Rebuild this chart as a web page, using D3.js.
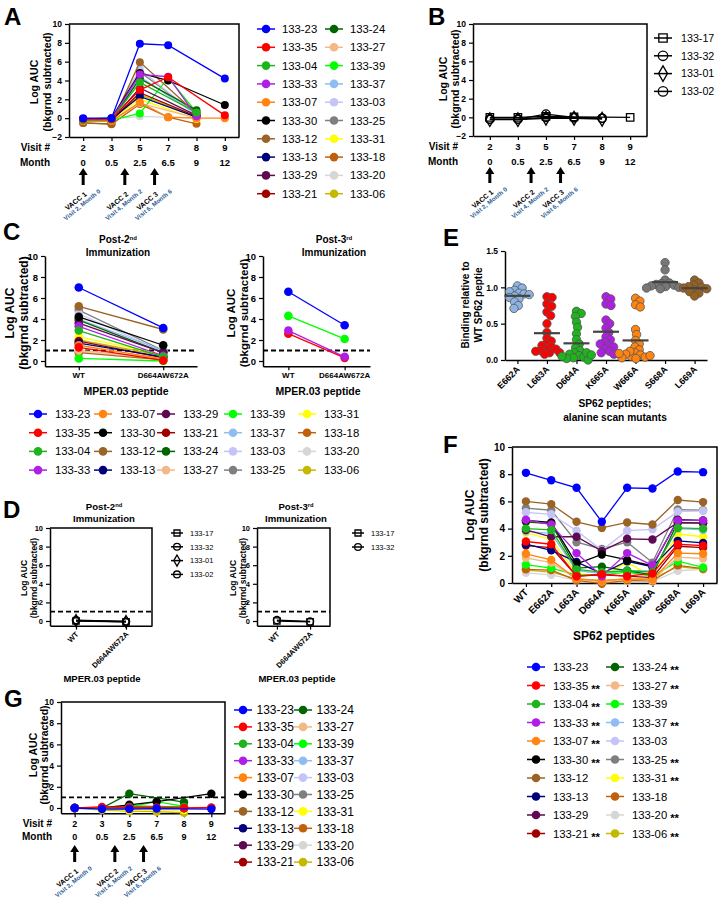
<!DOCTYPE html>
<html>
<head>
<meta charset="utf-8">
<script src="https://cdn.jsdelivr.net/npm/d3@7"></script>
<style>
  body { margin: 0; background: #fff; }
  text { font-family: Arial, "Liberation Sans", sans-serif; }
</style>
</head>
<body>
<svg id="fig" width="723" height="900"></svg>
<script>
// ---- data ----
const subjects = ["133-23","133-35","133-04","133-33","133-07","133-30","133-12","133-13","133-29","133-21",
                  "133-24","133-27","133-39","133-37","133-03","133-25","133-31","133-18","133-20","133-06"];
const subjectColors = ["#0000ff","#ff0000","#1db41d","#b01ee6","#ff8410","#000000","#9a6426","#00007f","#5e0a52","#a00000",
                       "#006400","#f2b886","#00ff00","#8fbdf2","#c4c4f6","#7f7f7f","#ffff00","#c0600c","#d6d6d6","#c4b800"];
const visits = ["2","3","5","7","8","9"];
const months = ["0","0.5","2.5","6.5","9","12"];
const vaccLabels = ["VACC 1","VACC 2","VACC 3"];
const vaccNotes = ["Visit 2, Month 0","Visit 4, Month 2","Visit 6, Month 6"];

// A: Log AUC per visit (null = not measured)
const aucA = [
  [0.0, 0.0, 7.9, 7.75, null, 4.2],
  [-0.1, -0.1, 3.0, 4.35, null, 0.3],
  [-0.2, -0.15, 3.8, null, 0.6, null],
  [-0.15, -0.1, 4.65, 4.4, 0.2, null],
  [-0.3, -0.3, 1.7, 0.1, 0.0, 0.0],
  [-0.1, 0.0, 4.8, 4.0, null, 1.4],
  [-0.5, -0.6, 5.95, null, 0.5, null],
  [-0.1, -0.1, 2.3, null, 0.1, null],
  [-0.2, -0.2, 3.2, null, 0.3, null],
  [-0.25, -0.25, 2.7, null, 0.2, null],
  [-0.2, -0.2, 4.2, null, 0.85, null],
  [-0.35, -0.35, 1.6, null, 0.0, null],
  [-0.2, -0.2, 0.5, 4.3, 0.6, null],
  [-0.1, -0.1, 4.4, null, 0.4, null],
  [-0.1, -0.1, 5.2, null, 0.3, null],
  [-0.2, -0.2, 4.9, null, 0.5, null],
  [-0.2, -0.2, 2.0, null, -0.1, null],
  [-0.5, -0.65, 1.5, 0.1, -0.6, null],
  [-0.1, -0.1, 0.2, null, 0.0, null],
  [-0.2, -0.2, 2.5, null, 0.1, null]
];

// B: placebo subjects
const negSubjects = ["133-17","133-32","133-01","133-02"];
const negSymbols = ["square","circle","diamond","circle"];
const aucB = [
  [0.0, 0.0, 0.1, 0.05, null, 0.0],
  [-0.2, -0.2, 0.35, 0.0, -0.1, null],
  [-0.25, -0.25, -0.1, -0.1, -0.2, null],
  [-0.2, -0.2, 0.0, -0.05, -0.1, null]
];

// C: MPER.03 WT vs D664AW672A
const mperPeptides = ["WT","D664AW672A"];
const mperPost2 = [
  [7.0, 3.15], [1.3, 0.05], [2.9, 0.4], [3.3, 0.5], [1.5, 0.2], [4.2, 1.5], [5.2, 3.0], [1.7, 0.4], [3.6, 0.8], [1.9, 0.3],
  [3.9, 0.8], [1.0, 0.3], [0.25, 0.0], [4.0, 1.0], [4.5, 0.9], [4.85, 1.0], [2.3, 0.6], [0.8, 0.1], [0.9, 0.2], [2.0, 0.5]
];
const post3Subjects = ["133-23","133-39","133-33","133-35"];
const mperPost3 = [[6.6, 3.4], [4.3, 2.1], [2.9, 0.4], [2.6, 0.3]];

// D: placebo, MPER.03
const mperNegPost2 = [[0.0, -0.1], [0.1, -0.05], [0.05, -0.05], [0.05, -0.1]];
const post3NegSubjects = ["133-17","133-32"];
const mperNegPost3 = [[0.0, -0.1], [0.1, -0.05]];

// E: binding relative to WT SP62
const alaMutants = ["E662A","L663A","D664A","K665A","W666A","S668A","L669A"];
const mutantColors = ["#8db4e2","#ff0000","#1db41d","#b01ee6","#ff8410","#777777","#98601e"];
const bindingTicks = [0, 0.5, 1, 1.5];
const relBinding = [
  [1.02, 0.99, 0.96, 0.94, 0.92, 0.91, 0.90, 0.88, 0.86, 0.84, 0.80, 0.75, 0.71],
  [0.87, 0.86, 0.77, 0.74, 0.66, 0.61, 0.50, 0.38, 0.30, 0.26, 0.22, 0.20, 0.18, 0.15, 0.13, 0.10, 0.15, 0.12, 0.10, 0.08],
  [0.67, 0.64, 0.60, 0.52, 0.45, 0.36, 0.28, 0.22, 0.17, 0.13, 0.10, 0.08, 0.06, 0.04, 0.03, 0.02, 0.0, 0.05, 0.10, 0.07],
  [0.87, 0.84, 0.77, 0.75, 0.55, 0.50, 0.44, 0.38, 0.32, 0.28, 0.25, 0.22, 0.20, 0.18, 0.15, 0.12, 0.10, 0.08],
  [0.85, 0.81, 0.76, 0.73, 0.42, 0.35, 0.27, 0.22, 0.18, 0.14, 0.10, 0.07, 0.05, 0.02, 0.12, 0.08, 0.04, 0.06, 0.03, 0.09],
  [1.34, 1.24, 1.10, 1.06, 1.05, 1.04, 1.03, 1.02, 1.01, 1.00, 0.99, 0.98],
  [1.10, 1.06, 1.03, 1.01, 1.00, 0.99, 0.98, 0.96, 0.94, 0.92, 0.88]
];

// F: SP62 alanine scan
const sp62Peptides = ["WT","E662A","L663A","D664A","K665A","W666A","S668A","L669A"];
const aucF = [
  [8.1, 7.55, 7.0, 4.5, 7.0, 6.95, 8.2, 8.15],
  [3.05, 2.85, 0.5, 0.65, 0.5, 0.7, 2.85, 2.75],
  [4.0, 3.9, 1.0, 0.8, 0.9, 0.8, 4.05, 4.0],
  [4.65, 4.3, 2.2, 0.5, 2.2, 1.3, 4.6, 4.6],
  [2.15, 1.7, 0.3, 0.15, 0.3, 0.25, 2.2, 2.15],
  [4.6, 4.45, 1.4, 2.1, 1.7, 1.25, 4.65, 4.6],
  [6.0, 5.8, 4.5, 4.05, 4.45, 4.3, 6.1, 5.95],
  [2.85, 2.4, 1.55, 0.7, 1.6, 1.2, 3.1, 2.95],
  [3.9, 3.4, 3.4, 2.35, 3.25, 3.2, 4.45, 4.4],
  [2.75, 2.6, 0.5, 0.6, 0.5, 0.4, 2.7, 2.6],
  [4.5, 4.35, 1.1, 1.2, 0.9, 0.6, 4.45, 4.4],
  [1.85, 1.5, 0.3, 0.1, 0.3, 0.2, 1.9, 1.8],
  [1.35, 1.1, 0.6, 0.6, 0.8, 0.5, 1.6, 1.15],
  [3.8, 3.65, 0.9, 0.7, 0.9, 0.9, 4.0, 3.9],
  [5.2, 5.05, 3.85, 2.4, 3.85, 3.95, 5.25, 5.3],
  [5.5, 5.35, 3.0, 2.5, 3.0, 1.5, 5.4, 5.35],
  [3.7, 3.2, 0.7, 0.5, 1.5, 0.5, 3.6, 3.4],
  [1.0, 0.95, 0.2, -0.05, 0.2, 0.15, 1.3, 1.05],
  [0.75, 0.6, 0.2, 0.1, 0.15, 0.1, 0.9, 1.0],
  [0.95, 0.8, 0.3, 0.2, 0.3, 0.3, 1.2, 1.0]
];
const sigStars = ["","**","**","**","**","**","","","","**","**","**","","**","","**","**","","**","**"];

// G: MPER.03 over visits
const aucG = [
  [0.0, -0.1, -0.1, -0.05, null, -0.1],
  [0.0, 0.1, 0.05, 0.05, 0.0, 0.05],
  [0.0, 0.0, 0.1, null, 0.1, null],
  [0.0, 0.0, 0.0, null, 0.0, null],
  [0.0, 0.0, 0.0, null, 0.0, 0.0],
  [0.0, 0.0, 0.3, 0.6, null, 1.35],
  [0.0, 0.0, 0.1, null, 0.0, null],
  [0.0, 0.0, 0.0, null, 0.0, null],
  [0.0, 0.0, 0.05, null, 0.0, null],
  [0.0, 0.05, 0.05, null, 0.0, null],
  [0.0, 0.0, 1.35, null, 0.55, null],
  [0.0, 0.0, 0.0, null, 0.0, null],
  [0.0, 0.0, 0.1, 0.6, 0.15, null],
  [0.0, 0.0, 0.0, null, 0.0, null],
  [0.0, 0.0, 0.0, null, 0.0, null],
  [0.0, 0.0, 0.2, null, 0.1, null],
  [0.0, -0.1, -0.2, null, -0.2, null],
  [0.0, 0.0, 0.0, null, 0.0, null],
  [0.0, 0.0, 0.0, null, 0.0, null],
  [0.0, -0.2, -0.3, -0.35, -0.45, null]
];

// ---- helpers ----
const svg = d3.select("#fig");
const symbolTypes = { square: d3.symbolSquare, circle: d3.symbolCircle, diamond: d3.symbolDiamond };
const vaccIdx = [0, 1.47, 2.52];

function styleAxis(sel, fs) {
  sel.select(".domain").attr("stroke-width", 1.5);
  sel.selectAll(".tick line").attr("stroke-width", 1.2);
  sel.selectAll("text").attr("font-weight", "bold").attr("font-size", fs).attr("fill", "#000")
    .attr("font-family", "Arial, 'Liberation Sans', sans-serif");
}

function panel(o) {
  const g = svg.append("g");
  const x = d3.scalePoint().domain(o.cats).range([o.x0, o.x1]).padding(o.pad);
  const y = d3.scaleLinear().domain(o.dom).range([o.yb, o.yt]);
  g.append("g").attr("transform", `translate(${o.x0},0)`)
    .call(d3.axisLeft(y).tickValues(o.ticks).tickFormat(o.fmt || d3.format("d")).tickSize(4).tickSizeOuter(0))
    .call(styleAxis, o.fs);
  g.append("g").attr("transform", `translate(0,${o.yb})`)
    .call(d3.axisBottom(x).tickSize(4).tickSizeOuter(0).tickFormat(""))
    .call(styleAxis, o.fs);
  if (o.frame) {
    g.append("path").attr("d", `M${o.x0},${o.yt}H${o.x1}V${o.yb}`)
      .attr("fill", "none").attr("stroke", "#000").attr("stroke-width", 1.5);
  }
  return { g, x, y, o };
}

function yLabel(lines, cxs, cy, fs) {
  lines.forEach((t, i) => {
    svg.append("text").attr("transform", `translate(${cxs[i] + fs * 0.36},${cy}) rotate(-90)`)
      .attr("text-anchor", "middle").attr("font-size", fs).attr("font-weight", "bold").text(t);
  });
}

function linePlot(p, cats, rows, colors, r, lw) {
  const line = d3.line().x(d => p.x(d[0])).y(d => p.y(d[1]));
  d3.range(rows.length).reverse().forEach(i => {
    const pts = rows[i].map((v, j) => [cats[j], v]).filter(d => d[1] != null);
    const s = p.g.append("g");
    s.append("path").attr("d", line(pts)).attr("fill", "none").attr("stroke", colors[i]).attr("stroke-width", lw);
    s.selectAll("circle").data(pts).join("circle")
      .attr("cx", d => p.x(d[0])).attr("cy", d => p.y(d[1])).attr("r", r).attr("fill", colors[i]);
  });
}

function symbolPlot(p, cats, rows, syms, size) {
  const line = d3.line().x(d => p.x(d[0])).y(d => p.y(d[1]));
  rows.forEach((row, i) => {
    const pts = row.map((v, j) => [cats[j], v]).filter(d => d[1] != null);
    const s = p.g.append("g");
    s.append("path").attr("d", line(pts)).attr("fill", "none").attr("stroke", "#000").attr("stroke-width", 1.3);
    s.selectAll("path.sym").data(pts).join("path").attr("class", "sym")
      .attr("transform", d => `translate(${p.x(d[0])},${p.y(d[1])})`)
      .attr("d", d3.symbol(symbolTypes[syms[i]], size)())
      .attr("fill", "none").attr("stroke", "#000").attr("stroke-width", 1.3);
  });
}

function dashed(p, v) {
  p.g.append("line").attr("x1", p.o.x0).attr("x2", p.o.x1).attr("y1", p.y(v)).attr("y2", p.y(v))
    .attr("stroke", "#000").attr("stroke-width", 1.8).attr("stroke-dasharray", "5,3");
}

function legend(o) {
  o.names.forEach((name, i) => {
    const cx = o.cols[Math.floor(i / o.rows)], cy = o.y0 + (i % o.rows) * o.dy;
    svg.append("line").attr("x1", cx - o.hl).attr("x2", cx + o.hl).attr("y1", cy).attr("y2", cy)
      .attr("stroke", o.colors ? o.colors[i] : "#000").attr("stroke-width", 1.5);
    if (o.syms) {
      svg.append("path").attr("transform", `translate(${cx},${cy})`)
        .attr("d", d3.symbol(symbolTypes[o.syms[i]], o.ss)())
        .attr("fill", "none").attr("stroke", "#000").attr("stroke-width", 1.3);
    } else {
      svg.append("circle").attr("cx", cx).attr("cy", cy).attr("r", o.r).attr("fill", o.colors[i]);
    }
    const t = svg.append("text").attr("x", cx + o.dx).attr("y", cy + o.fs * 0.36).attr("font-size", o.fs).text(name);
    if (o.stars && o.stars[i]) t.append("tspan").attr("dx", 3).attr("dy", 3).attr("font-weight", "bold").text(o.stars[i]);
  });
}

function visitRows(p, o) {
  const g = p.g;
  [["Visit #", visits, o.r1], ["Month", months, o.r2]].forEach(([lab, vals, yy]) => {
    g.append("text").attr("x", o.lx).attr("y", yy).attr("text-anchor", "end")
      .attr("font-size", o.lfs).attr("font-weight", "bold").text(lab);
    g.selectAll(null).data(vals).join("text")
      .attr("x", (d, i) => p.x(visits[i])).attr("y", yy).attr("text-anchor", "middle")
      .attr("font-size", o.fs).attr("font-weight", "bold").text(d => d);
  });
  const step = p.x.step();
  vaccIdx.forEach((k, i) => {
    const ax = p.x(visits[0]) + k * step;
    g.append("path")
      .attr("d", `M${ax},${o.at}L${ax - 4.5},${o.at + 7}H${ax - 1.5}V${o.ab}H${ax + 1.5}V${o.at + 7}H${ax + 4.5}Z`)
      .attr("fill", "#000");
    const lg = g.append("g").attr("transform", `translate(${ax + 4},${o.ab + 10}) rotate(-39)`);
    lg.append("text").attr("text-anchor", "end").attr("font-size", 7).attr("font-weight", "bold").text(vaccLabels[i]);
    lg.append("text").attr("x", 12.5).attr("y", 6.5).attr("text-anchor", "end")
      .attr("font-size", 6.2).attr("font-weight", "bold").attr("fill", "#2b5c95").text(vaccNotes[i]);
  });
}

function title(sup, cx, y1, y2, fs) {
  const t = svg.append("text").attr("x", cx).attr("y", y1).attr("text-anchor", "middle")
    .attr("font-size", fs).attr("font-weight", "bold").text("Post-" + sup[0]);
  t.append("tspan").attr("font-size", fs * 0.6).attr("dy", -fs * 0.35).text(sup[1]);
  svg.append("text").attr("x", cx).attr("y", y2).attr("text-anchor", "middle")
    .attr("font-size", fs).attr("font-weight", "bold").text("Immunization");
}

function boldText(txt, x, y, fs, anchor) {
  return svg.append("text").attr("x", x).attr("y", y).attr("text-anchor", anchor || "middle")
    .attr("font-size", fs).attr("font-weight", "bold").text(txt);
}

function rotLabels(p, cats, dy, fs) {
  p.g.selectAll(null).data(cats).join("text")
    .attr("transform", d => `translate(${p.x(d) + 3},${p.o.yb + dy}) rotate(-45)`)
    .attr("text-anchor", "end").attr("font-size", fs).attr("font-weight", "bold").text(d => d);
}

// horizontal offsets so that dots of one column sit side by side (overlap allowed down to r)
function dodge(ys, r) {
  const placed = [];
  return ys.map(y => {
    const cands = [0];
    placed.forEach(p => {
      const dy = y - p.y;
      if (Math.abs(dy) < 2 * r) { const dx = Math.sqrt(4 * r * r - dy * dy); cands.push(p.x + dx, p.x - dx); }
    });
    cands.sort((a, b) => Math.abs(a) - Math.abs(b));
    let best = 0;
    for (const c of cands) {
      if (placed.every(p => (p.x - c) ** 2 + (p.y - y) ** 2 >= 4 * r * r - 0.01)) { best = c; break; }
    }
    placed.push({ x: best, y });
    return best;
  });
}

// ---- panel letters ----
[["A", 4, 25], ["B", 428, 25], ["C", 3, 240], ["D", 3, 518], ["E", 443, 246], ["F", 443, 453], ["G", 4, 707]]
  .forEach(([l, x, y]) => boldText(l, x, y, 24, "start"));

// ---- A ----
const pA = panel({ cats: visits, x0: 69, x1: 239, yt: 24, yb: 137, dom: [-2, 10], ticks: d3.range(-2, 11, 2), pad: 0.5, fs: 8.5, frame: true });
linePlot(pA, visits, aucA, subjectColors, 4, 1.3);
visitRows(pA, { lx: 50, r1: 151, r2: 166, at: 168, ab: 185, fs: 9.5, lfs: 10 });
yLabel(["Log AUC", "(bkgrnd subtracted)"], [34, 47], 82, 10.5);
legend({ names: subjects, colors: subjectColors, cols: [266, 334], y0: 29, dy: 18.3, rows: 10, fs: 11.3, r: 4.3, dx: 16, hl: 9 });

// ---- B ----
const pB = panel({ cats: visits, x0: 473, x1: 647, yt: 24, yb: 136, dom: [-2, 10], ticks: d3.range(-2, 11, 2), pad: 0.6, fs: 8.5, frame: true });
symbolPlot(pB, visits, aucB, negSymbols, 55);
visitRows(pB, { lx: 458, r1: 150, r2: 165, at: 167, ab: 183, fs: 9.5, lfs: 10 });
yLabel(["Log AUC", "(bkgrnd subtracted)"], [443, 455], 79, 10.5);
legend({ names: negSubjects, syms: negSymbols, cols: [663], y0: 38, dy: 17.8, rows: 4, fs: 10.7, ss: 70, dx: 18, hl: 9 });

// ---- C ----
const pC1 = panel({ cats: mperPeptides, x0: 45, x1: 197, yt: 256, yb: 366.25, dom: [-0.5, 10], ticks: d3.range(0, 11, 2), pad: 0.4, fs: 9.5 });
dashed(pC1, 1);
linePlot(pC1, mperPeptides, mperPost2, subjectColors, 4.3, 1.3);
const pC2 = panel({ cats: mperPeptides, x0: 263, x1: 370, yt: 256, yb: 366.25, dom: [-0.5, 10], ticks: d3.range(0, 11, 2), pad: 0.45, fs: 9.5 });
dashed(pC2, 1);
linePlot(pC2, mperPeptides, mperPost3, post3Subjects.map(s => subjectColors[subjects.indexOf(s)]), 4.3, 1.3);
[pC1, pC2].forEach(p => {
  p.g.selectAll(null).data(mperPeptides).join("text").attr("x", d => p.x(d)).attr("y", 378)
    .attr("text-anchor", "middle").attr("font-size", 8).attr("font-weight", "bold").text(d => d);
});
title(["2", "nd"], 118, 243, 256, 10);
title(["3", "rd"], 334, 243, 256, 10);
boldText("MPER.03 peptide", 126, 395, 10.5);
boldText("MPER.03 peptide", 318, 395, 10.5);
yLabel(["Log AUC", "(bkgrnd subtracted)"], [10, 24], 313, 12);
yLabel(["Log AUC", "(bkgrnd subtracted)"], [231, 244], 313, 11.5);
legend({ names: subjects, colors: subjectColors, cols: [38, 103, 166, 233, 307], y0: 414, dy: 18.7, rows: 4, fs: 11.3, r: 4.3, dx: 17, hl: 9 });

// ---- D ----
const pD1 = panel({ cats: mperPeptides, x0: 50, x1: 152, yt: 528, yb: 625.65, dom: [-0.5, 10], ticks: d3.range(0, 11, 2), pad: 0.52, fs: 7.5, frame: true });
dashed(pD1, 1);
symbolPlot(pD1, mperPeptides, mperNegPost2, negSymbols, 40);
const pD2 = panel({ cats: mperPeptides, x0: 257, x1: 330, yt: 528, yb: 625.65, dom: [-0.5, 10], ticks: d3.range(0, 11, 2), pad: 0.6, fs: 7.5, frame: true });
dashed(pD2, 1);
symbolPlot(pD2, mperPeptides, mperNegPost3, negSymbols, 40);
rotLabels(pD1, mperPeptides, 9, 7.5);
rotLabels(pD2, mperPeptides, 9, 7.5);
title(["2", "nd"], 104, 510, 522, 9.6);
title(["3", "rd"], 296, 510, 522, 9.6);
boldText("MPER.03 peptide", 102, 682, 9.5);
boldText("MPER.03 peptide", 297, 682, 9.5);
yLabel(["Log AUC", "(bkgrnd subtracted)"], [24, 34], 578, 8.5);
yLabel(["Log AUC", "(bkgrnd subtracted)"], [233, 243], 578, 8.5);
legend({ names: negSubjects, syms: negSymbols, cols: [177], y0: 533, dy: 13.8, rows: 4, fs: 7.5, ss: 36, dx: 13, hl: 6 });
legend({ names: post3NegSubjects, syms: negSymbols, cols: [358], y0: 533, dy: 14, rows: 4, fs: 7.5, ss: 36, dx: 13, hl: 6 });

// ---- E ----
const pE = panel({ cats: alaMutants, x0: 505, x1: 707, yt: 251, yb: 360, dom: [0, 1.5], ticks: bindingTicks, fmt: d3.format(".1f"), pad: 0.42, fs: 8.5 });
alaMutants.forEach((m, k) => {
  const vals = relBinding[k];
  const offs = dodge(vals.map(v => pE.y(v)), 2.6);
  const cx = pE.x(m);
  pE.g.selectAll(null).data(vals).join("circle")
    .attr("cx", (d, i) => cx + offs[i]).attr("cy", d => pE.y(d)).attr("r", 4.2)
    .attr("fill", mutantColors[k]).attr("stroke", "#555").attr("stroke-width", 0.8);
  const mv = d3.mean(vals);
  pE.g.append("line").attr("x1", cx - 13).attr("x2", cx + 13).attr("y1", pE.y(mv)).attr("y2", pE.y(mv))
    .attr("stroke", "#444").attr("stroke-width", 2.2);
});
rotLabels(pE, alaMutants, 10, 9);
boldText("SP62 peptides;", 615, 407, 10.2);
boldText("alanine scan mutants", 615, 421, 10.2);
yLabel(["Binding relative to", "WT SP62 peptie"], [465, 478], 305, 10);

// ---- F ----
const pF = panel({ cats: sp62Peptides, x0: 512, x1: 717, yt: 447, yb: 583, dom: [0, 10], ticks: d3.range(0, 11, 2), pad: 0.55, fs: 10, frame: true });
linePlot(pF, sp62Peptides, aucF, subjectColors, 4.2, 1.3);
rotLabels(pF, sp62Peptides, 10, 10);
boldText("SP62 peptides", 614, 640, 12);
yLabel(["Log AUC", "(bkgrnd subtracted)"], [470, 484], 515, 12);
legend({ names: subjects, colors: subjectColors, cols: [536, 615], y0: 667, dy: 18.5, rows: 10, fs: 11.3, r: 4.3, dx: 17, hl: 9, stars: sigStars });

// ---- G ----
const pG = panel({ cats: visits, x0: 61, x1: 225, yt: 702, yb: 813.3, dom: [-0.5, 10], ticks: d3.range(0, 11, 2), pad: 0.5, fs: 8.5, frame: true });
dashed(pG, 1);
linePlot(pG, visits, aucG, subjectColors, 4.2, 1.3);
visitRows(pG, { lx: 52, r1: 827, r2: 840, at: 845, ab: 862, fs: 9, lfs: 10 });
yLabel(["Log AUC", "(bkgrnd subtracted)"], [33, 44], 755, 10.5);
legend({ names: subjects, colors: subjectColors, cols: [243, 303], y0: 710, dy: 16.9, rows: 10, fs: 12, r: 4.3, dx: 13.5, hl: 9 });
</script>
</body>
</html>
